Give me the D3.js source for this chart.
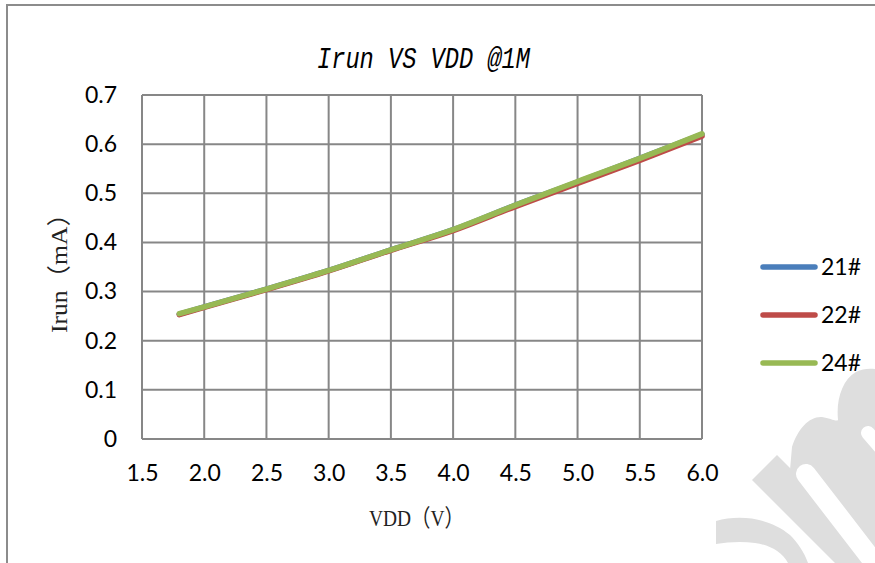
<!DOCTYPE html>
<html>
<head>
<meta charset="utf-8">
<script src="https://cdn.jsdelivr.net/npm/d3@7/dist/d3.min.js"></script>
<style>
html,body{margin:0;padding:0;background:#fff;}
svg{display:block;}
</style>
</head>
<body>
<svg id="chart" width="875" height="563"></svg>
<script>
// ---- data ----
const vdd = [1.8, 2.0, 2.5, 3.0, 3.5, 4.0, 4.5, 5.0, 5.5, 6.0];
const s21 = [0.254, 0.269, 0.305, 0.343, 0.385, 0.426, 0.476, 0.523, 0.571, 0.620];
const s22 = [0.253, 0.268, 0.304, 0.342, 0.384, 0.424, 0.473, 0.520, 0.567, 0.616];
const s24 = [0.255, 0.269, 0.305, 0.343, 0.385, 0.426, 0.476, 0.524, 0.571, 0.621];
const seriesNames = ["21#", "22#", "24#"];
const seriesColors = ["#4a7ebb", "#be4b48", "#98b954"];
const xTicks = [1.5, 2.0, 2.5, 3.0, 3.5, 4.0, 4.5, 5.0, 5.5, 6.0];
const yTicks = [0, 0.1, 0.2, 0.3, 0.4, 0.5, 0.6, 0.7];
const titleText = "Irun VS VDD @1M";
const xTitle = "VDD（V）";
const yTitle = "Irun（mA）";

const svg = d3.select("#chart");
const W = 875, H = 563;
const plot = {left: 142, right: 702, top: 95, bottom: 439};

// watermark (background decoration)
const wm = svg.append("g").attr("fill", "#dedede");
wm.append("path").attr("d", "M752,480 L777,455 L895,573 L870,598 Z");
wm.append("path").attr("d", "M790,470 L792,447 C798,428 810,416 822,417 C830,418 836,422 838,420 C836,400 842,380 856,372 C864,368 872,368 880,370 L880,563 L860,563 Z");
wm.append("path").attr("d", "M716,521 C740,514 770,518 790,535 C798,543 804,552 808,563 L788,563 C782,552 770,545 755,543 C742,541 728,542 716,544 Z");
// counter (white) cut
svg.append("path")
  .attr("d", "M806,474 L880,570")
  .attr("stroke", "#fff").attr("stroke-width", 20).attr("stroke-linecap", "round");
svg.append("path")
  .attr("d", "M868,433 L900,470")
  .attr("stroke", "#fff").attr("stroke-width", 14).attr("stroke-linecap", "round");

// outer border
svg.append("rect")
  .attr("x", 7).attr("y", 5).attr("width", W + 20).attr("height", H + 20)
  .attr("fill", "none").attr("stroke", "#8c8c8c").attr("stroke-width", 2);

const x = d3.scaleLinear().domain([1.5, 6.0]).range([plot.left, plot.right]);
const y = d3.scaleLinear().domain([0, 0.7]).range([plot.bottom, plot.top]);

// grid
const grid = svg.append("g").attr("stroke", "#878787").attr("stroke-width", 2);
grid.selectAll("line.v").data(xTicks).join("line")
  .attr("x1", d => x(d)).attr("x2", d => x(d))
  .attr("y1", plot.top).attr("y2", plot.bottom);
grid.selectAll("line.h").data(yTicks).join("line")
  .attr("x1", plot.left).attr("x2", plot.right)
  .attr("y1", d => y(d)).attr("y2", d => y(d));

// axes labels via d3 axes
const fontTick = "Lato, 'Open Sans', sans-serif";
const yAxis = d3.axisLeft(y).tickValues(yTicks).tickSize(0).tickPadding(25)
  .tickFormat(d => d === 0 ? "0" : d3.format(".1f")(d));
const gy = svg.append("g").attr("transform", `translate(${plot.left},0)`).call(yAxis);
gy.select(".domain").remove();
gy.selectAll("text").attr("font-family", fontTick).attr("font-size", 23).attr("fill", "#000");

const xAxis = d3.axisBottom(x).tickValues(xTicks).tickSize(0).tickPadding(26)
  .tickFormat(d3.format(".1f"));
const gx = svg.append("g").attr("transform", `translate(0,${plot.bottom})`).call(xAxis);
gx.select(".domain").remove();
gx.selectAll("text").attr("font-family", fontTick).attr("font-size", 23).attr("fill", "#000");

// lines
const allSeries = [s21, s22, s24];
const line = d3.line().x((d, i) => x(vdd[i])).y(d => y(d)).curve(d3.curveMonotoneX);
allSeries.forEach((s, k) => {
  svg.append("path").datum(s)
    .attr("d", line)
    .attr("fill", "none")
    .attr("stroke", seriesColors[k])
    .attr("stroke-width", 5.5)
    .attr("stroke-linecap", "round")
    .attr("stroke-linejoin", "round");
});

// title
svg.append("text")
  .attr("x", 317).attr("y", 68)
  .attr("font-family", "'Liberation Mono', monospace")
  .attr("font-style", "italic")
  .attr("font-size", 29)
  .attr("textLength", 213).attr("lengthAdjust", "spacingAndGlyphs")
  .attr("fill", "#000")
  .text(titleText);

// x title
svg.append("text")
  .attr("x", 369).attr("y", 526)
  .attr("font-family", "'Liberation Serif', 'Noto Sans CJK SC', serif")
  .attr("font-size", 24)
  .attr("textLength", 95).attr("lengthAdjust", "spacingAndGlyphs")
  .attr("fill", "#222")
  .text(xTitle);

// y title
svg.append("text")
  .attr("transform", "translate(67,333) rotate(-90)")
  .attr("font-family", "'Liberation Serif', 'Noto Sans CJK SC', serif")
  .attr("font-size", 24)
  .attr("textLength", 132).attr("lengthAdjust", "spacingAndGlyphs")
  .attr("fill", "#222")
  .text(yTitle);

// legend
const legendY = [267, 315, 363];
const lg = svg.append("g");
seriesNames.forEach((name, k) => {
  lg.append("line")
    .attr("x1", 763).attr("x2", 815)
    .attr("y1", legendY[k]).attr("y2", legendY[k])
    .attr("stroke", seriesColors[k]).attr("stroke-width", 5.5).attr("stroke-linecap", "round");
  lg.append("text")
    .attr("x", 821).attr("y", legendY[k] + 8)
    .attr("font-family", fontTick).attr("font-size", 23).attr("fill", "#000")
    .text(name);
});
</script>
</body>
</html>
